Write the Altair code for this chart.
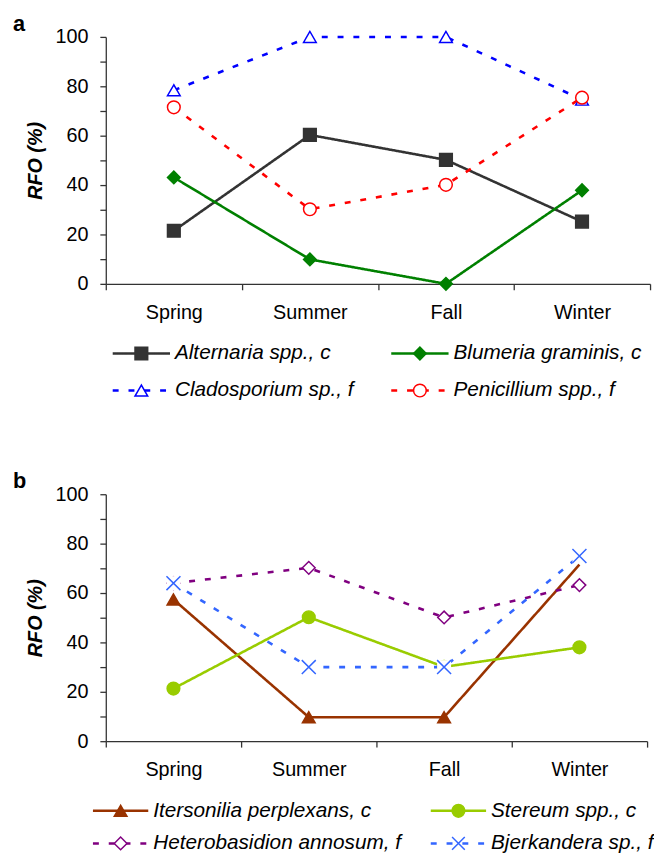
import altair as alt
import pandas as pd

seasons = ["Spring", "Summer", "Fall", "Winter"]

# ---- panel a ----
a_names = ["Alternaria spp., c", "Blumeria graminis, c", "Cladosporium sp., f", "Penicillium spp., f"]
alternaria = [21.5, 60.3, 50.2, 25.2]
blumeria = [43.1, 9.9, 0.0, 37.9]
cladosporium = [78.4, 100.0, 100.0, 74.6]
penicillium = [71.5, 30.2, 40.1, 75.4]
a_colors = ["#333333", "#008000", "#0000FF", "#FF0000"]
a_fills = ["#333333", "#008000", "#FFFFFF", "#FFFFFF"]
a_shapes = ["square", "diamond", "triangle-up", "circle"]
a_dashes = [[1, 0], [1, 0], [6, 10], [6, 10]]

# ---- panel b ----
b_names = ["Itersonilia perplexans, c", "Stereum spp., c", "Heterobasidion annosum, f", "Bjerkandera sp., f"]
itersonilia = [57.4, 9.7, 9.7, 71.5]
stereum = [21.3, 50.2, 30.1, 38.0]
heterobasidion = [64.0, 70.2, 50.1, 63.2]
bjerkandera = [64.0, 30.0, 30.0, 75.0]
b_colors = ["#993300", "#99CC00", "#800080", "#3366FF"]
b_fills = ["#993300", "#99CC00", "#FFFFFF", "#FFFFFF"]
b_shapes = ["triangle-up", "circle", "diamond", "M-1,-1L1,1M-1,1L1,-1"]
b_dashes = [[1, 0], [1, 0], [6, 10], [6, 10]]

legend_col = [0, 1, 0, 1]
legend_row = [0, 0, 1, 1]

FONT = "Liberation Sans"


def long_df(names, series):
    rows = []
    for n, vals in zip(names, series):
        for s, v in zip(seasons, vals):
            rows.append({"series": n, "season": s, "value": v})
    return pd.DataFrame(rows)


def panel(names, series, colors, fills, shapes, dashes, letter, width,
          leg_x_range, leg_y_range, line_len, backdrop=None, hide_marker=None):
    df = long_df(names, series)
    leg = pd.DataFrame({"series": names, "col": legend_col, "row": legend_row})

    color = alt.Color("series:N", scale=alt.Scale(domain=names, range=colors), legend=None)
    fill = alt.Fill("series:N", scale=alt.Scale(domain=names, range=fills), legend=None)
    shape = alt.Shape("series:N", scale=alt.Scale(domain=names, range=shapes), legend=None)
    dash = alt.StrokeDash("series:N", scale=alt.Scale(domain=names, range=dashes), legend=None)

    x = alt.X("season:N", sort=seasons, title=None,
              scale=alt.Scale(type="band", paddingInner=0, paddingOuter=0),
              axis=alt.Axis(tickBand="extent", labelAngle=0, labelPadding=13,
                            tickSize=6, labelFontSize=20))
    y = alt.Y("value:Q", title="RFO (%)",
              scale=alt.Scale(domain=[0, 100], nice=False),
              axis=alt.Axis(values=list(range(0, 101, 10)),
                            labelExpr="datum.value % 20 === 0 ? datum.label : ''",
                            tickSize=6, labelPadding=12, labelFontSize=20,
                            titleFontSize=20, titleFontWeight="bold",
                            titleFontStyle="italic", titlePadding=10))

    base = alt.Chart(df).encode(x=x, y=y)
    lines = base.mark_line(strokeWidth=2.6).encode(color=color, strokeDash=dash, detail="series:N")

    if backdrop is None:
        pts = base.mark_point(size=165, opacity=1, strokeWidth=1.5).encode(
            color=color, fill=fill, shape=shape)
        layers = [lines, pts]
    else:
        marker_src = base
        if hide_marker is not None:
            marker_src = base.transform_filter(
                f"!(datum.series === '{hide_marker[0]}' && datum.season === '{hide_marker[1]}')")
        pts = marker_src.transform_filter(f"datum.series !== '{backdrop}'").mark_point(
            size=165, opacity=1, strokeWidth=1.5).encode(color=color, fill=fill, shape=shape)
        back = base.transform_filter(f"datum.series === '{backdrop}'").mark_point(
            shape="square", size=200, filled=True, opacity=1, color="white")
        xs = base.transform_filter(f"datum.series === '{backdrop}'").mark_point(
            size=200, opacity=1, strokeWidth=1.5).encode(color=color, fill=fill, shape=shape)
        layers = [lines, pts, back, xs]

    lx = alt.X("col:Q", scale=alt.Scale(domain=[0, 1], range=leg_x_range), axis=None)
    ly = alt.Y("row:Q", scale=alt.Scale(domain=[0, 1], range=leg_y_range), axis=None)
    lbase = alt.Chart(leg).encode(x=lx, y=ly)
    lrule = lbase.mark_rule(strokeWidth=2.6, x2Offset=line_len).encode(
        x2="col:Q", color=color, strokeDash=dash)
    lpts = lbase.mark_point(size=165, opacity=1, strokeWidth=1.5, xOffset=line_len / 2).encode(
        color=color, fill=fill, shape=shape)
    ltxt = lbase.mark_text(align="left", baseline="middle", dx=line_len + 5,
                           fontSize=21, fontStyle="italic", font=FONT, color="black").encode(
        text="series:N")
    legend = alt.layer(lrule, lpts, ltxt)

    main = alt.layer(*layers)
    return alt.layer(main, legend).resolve_scale(x="independent", y="independent").properties(
        width=width, height=250,
        title=alt.TitleParams(letter, anchor="start", frame="group", fontSize=22,
                              fontWeight="bold", font=FONT, color="black",
                              dx=-94, dy=13))


pa = panel(a_names, [alternaria, blumeria, cladosporium, penicillium],
           a_colors, a_fills, a_shapes, a_dashes, "a", 551,
           [7, 289], [320.5, 358], 58)
pb = panel(b_names, [itersonilia, stereum, heterobasidion, bjerkandera],
           b_colors, b_fills, b_shapes, b_dashes, "b", 548,
           [-13, 329], [320.5, 353.5], 56,
           backdrop="Bjerkandera sp., f", hide_marker=("Itersonilia perplexans, c", "Winter"))

chart = alt.vconcat(pa, pb, spacing=71).resolve_scale(
    color="independent", fill="independent", shape="independent", strokeDash="independent"
).properties(
    padding={"left": 5, "top": 0, "right": 0, "bottom": 0}
).configure_view(stroke=None).configure_axis(
    grid=False, labelFont=FONT, titleFont=FONT, labelColor="black", titleColor="black",
    domainColor="#333333", tickColor="#333333", domainWidth=1.3, tickWidth=1.3
)

chart.save("out.html", embed_options={"renderer": "svg", "actions": False})
